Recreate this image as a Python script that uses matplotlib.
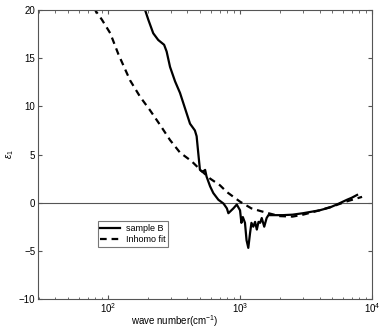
import matplotlib
matplotlib.use('Agg')
import matplotlib.pyplot as plt
from matplotlib.ticker import LogLocator, NullFormatter

plt.rcParams['font.family'] = ['Liberation Sans', 'DejaVu Sans']
plt.rcParams['mathtext.fontset'] = 'custom'
plt.rcParams['mathtext.rm'] = 'Liberation Sans'
plt.rcParams['mathtext.it'] = 'Liberation Sans:italic'

# sample B (measured)
sample_x = [190, 202, 220, 240, 266, 278, 295, 322, 351, 383, 418, 455, 469, 483,
            497, 520, 544, 558, 593, 627, 685, 750, 795, 816, 890, 945, 1000,
            1024, 1050, 1090, 1120, 1155, 1190, 1220, 1260, 1300, 1340, 1380,
            1420, 1460, 1525, 1590, 1640, 1780, 2120, 2500, 3000, 4000, 4800,
            5600, 6460, 7000, 7700]
sample_y = [20.1, 19.0, 17.6, 16.9, 16.4, 15.7, 14.1, 12.6, 11.4, 9.8, 8.2, 7.5, 6.9, 5.1,
            3.4, 3.2, 3.4, 2.7, 1.7, 1.0, 0.3, -0.1, -0.6, -1.1, -0.6, -0.2, -0.8,
            -2.1, -1.5, -2.1, -3.9, -4.7, -3.2, -2.1, -2.5, -2.0, -2.8, -2.0,
            -2.1, -1.6, -2.5, -1.6, -1.3, -1.3, -1.3, -1.25, -1.1, -0.8, -0.5,
            -0.1, 0.3, 0.5, 0.8]

# Inhomo fit
fit_x = [78, 90, 104, 120, 147, 175, 208, 250, 295, 351, 430, 510, 593, 705,
         795, 1000, 1220, 1450, 1640, 2000, 2500, 3000, 4000, 5000, 6500, 8400]
fit_y = [20.2, 19.0, 17.6, 15.4, 12.7, 11.0, 9.6, 8.0, 6.5, 5.2, 4.3, 3.3, 2.5, 1.8,
         1.1, 0.1, -0.6, -0.9, -1.1, -1.4, -1.45, -1.25, -0.8, -0.4, 0.15, 0.6]

fig = plt.figure(figsize=(3.82, 3.27), dpi=100)
ax = fig.add_axes([0.0995, 0.086, 0.8745, 0.883])

ax.axhline(0, color='#555555', lw=0.8)
ax.plot(sample_x, sample_y, 'k-', lw=1.6, label='sample B')
ax.plot(fit_x, fit_y, 'k--', lw=1.6, dashes=(3, 2.2), label='Inhomo fit')

ax.set_xscale('log')
ax.set_xlim(29.5, 10000)
ax.set_ylim(-10, 20)
ax.set_yticks([-10, -5, 0, 5, 10, 15, 20])
ax.xaxis.set_minor_locator(LogLocator(base=10, subs=range(2, 10)))
ax.xaxis.set_minor_formatter(NullFormatter())
ax.tick_params(which='both', direction='in', top=True, right=True,
               labelsize=7, color='#555555', pad=2)
ax.tick_params(which='major', length=3)
ax.tick_params(which='minor', length=1.8)
for s in ax.spines.values():
    s.set_color('#555555')
    s.set_linewidth(0.8)

ax.set_xlabel('wave number(cm$^{-1}$)', fontsize=7, labelpad=0)
ax.xaxis.set_label_coords(0.41, -0.048)
ax.set_ylabel(r'$\varepsilon_1$', fontsize=7)
ax.yaxis.set_label_coords(-0.065, 0.5)

leg = ax.legend(loc='lower left', bbox_to_anchor=(0.165, 0.165), fontsize=6.5,
                fancybox=False, edgecolor='#555555', handlelength=2.2,
                borderpad=0.3, labelspacing=0.2, handletextpad=0.6)
leg.get_frame().set_linewidth(0.8)

fig.savefig('out.png', dpi=100)
